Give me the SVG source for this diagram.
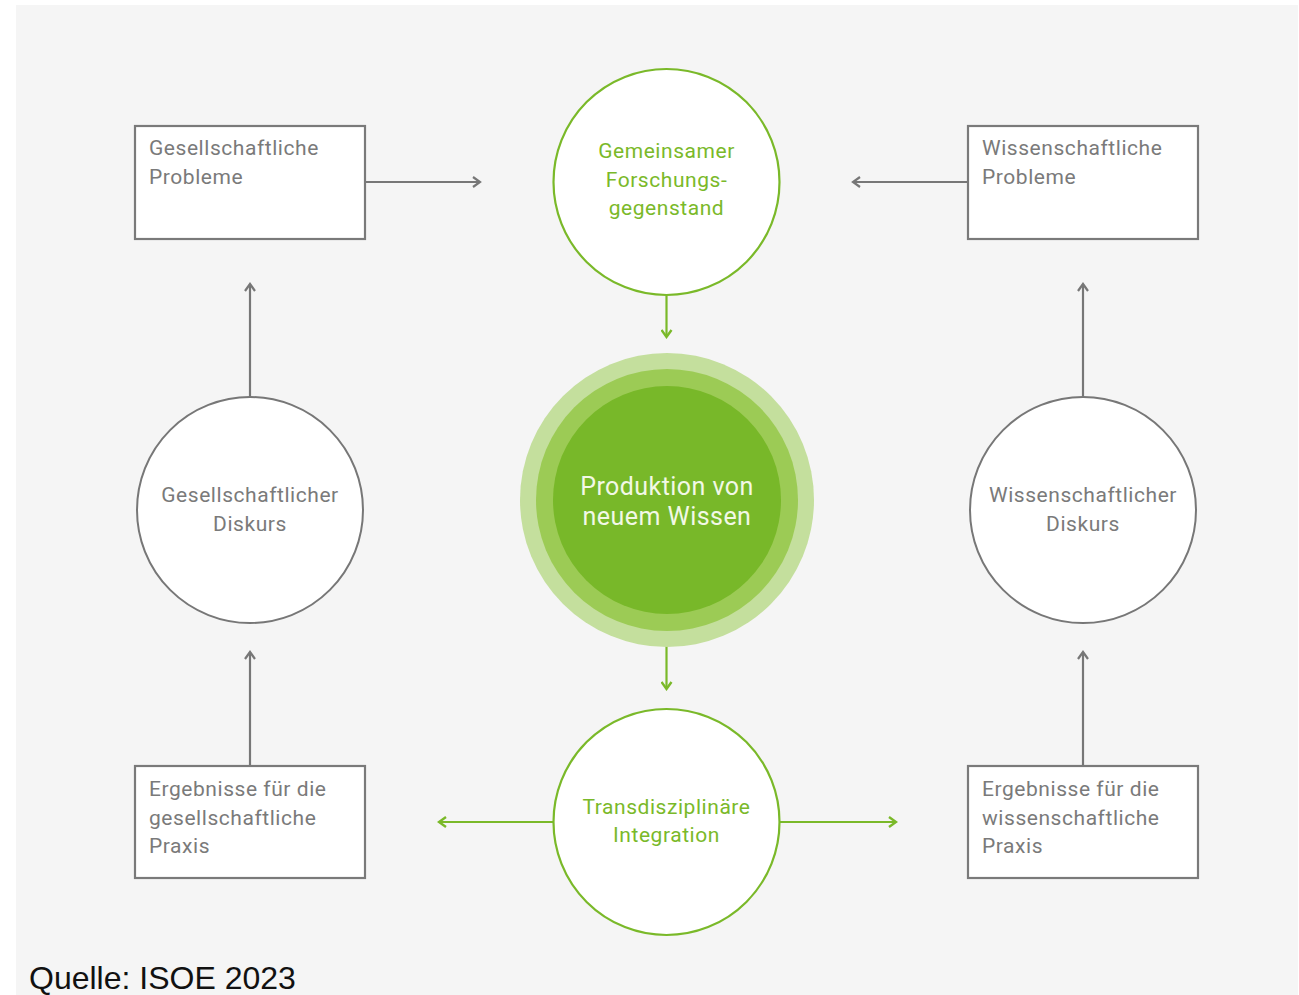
<svg xmlns="http://www.w3.org/2000/svg" width="1299" height="995" viewBox="0 0 1299 995">
<defs>
<style>
.bg{fill:#f5f5f5}
.box{fill:#fff;stroke:#7a7a7a;stroke-width:2.2}
.gc{fill:#fff;stroke:#777;stroke-width:2}
.grc{fill:#fff;stroke:#7ab929;stroke-width:2.2}
.t{font-family:Roboto,"Liberation Sans",sans-serif;font-size:21px;letter-spacing:0.55px;fill:#7a7a7a}
.tg{font-family:Roboto,"Liberation Sans",sans-serif;font-size:21px;letter-spacing:0.55px;fill:#7ab929;text-anchor:middle}
.tc{text-anchor:middle}
.tw{font-family:Roboto,"Liberation Sans",sans-serif;font-size:25px;letter-spacing:0.45px;fill:#f2f8e6;text-anchor:middle}
.gl{stroke:#777;stroke-width:2.2;fill:none}
.grl{stroke:#7ab929;stroke-width:2.2;fill:none}
</style>
<marker id="ag" viewBox="0 0 12 12" refX="10" refY="6" markerWidth="12" markerHeight="12" markerUnits="userSpaceOnUse" orient="auto">
<path d="M3,1 L10,6 L3,11" fill="none" stroke="#777" stroke-width="2.2"/>
</marker>
<marker id="agr" viewBox="0 0 12 12" refX="10" refY="6" markerWidth="12" markerHeight="12" markerUnits="userSpaceOnUse" orient="auto">
<path d="M3,1 L10,6 L3,11" fill="none" stroke="#7ab929" stroke-width="2.4"/>
</marker>
</defs>
<rect width="1299" height="995" fill="#fff"/>
<rect class="bg" x="16" y="5" width="1282" height="990"/>

<g id="connectors">
<line class="gl" x1="365" y1="182" x2="480" y2="182" marker-end="url(#ag)"/>
<line class="gl" x1="968" y1="182" x2="853" y2="182" marker-end="url(#ag)"/>
<line class="gl" x1="250" y1="397" x2="250" y2="284" marker-end="url(#ag)"/>
<line class="gl" x1="250" y1="766" x2="250" y2="652" marker-end="url(#ag)"/>
<line class="gl" x1="1083" y1="397" x2="1083" y2="284" marker-end="url(#ag)"/>
<line class="gl" x1="1083" y1="766" x2="1083" y2="652" marker-end="url(#ag)"/>
<line class="grl" x1="666.5" y1="296" x2="666.5" y2="337" marker-end="url(#agr)"/>
<line class="grl" x1="666.5" y1="646" x2="666.5" y2="689" marker-end="url(#agr)"/>
<line class="grl" x1="553" y1="822" x2="439" y2="822" marker-end="url(#agr)"/>
<line class="grl" x1="780" y1="822" x2="896" y2="822" marker-end="url(#agr)"/>
</g>

<g id="box-gesellschaftliche-probleme">
<rect class="box" x="135" y="126" width="230" height="113"/>
<text class="t" x="149" y="155">Gesellschaftliche</text>
<text class="t" x="149" y="184">Probleme</text>
</g>

<g id="box-wissenschaftliche-probleme">
<rect class="box" x="968" y="126" width="230" height="113"/>
<text class="t" x="982" y="155">Wissenschaftliche</text>
<text class="t" x="982" y="184">Probleme</text>
</g>

<g id="box-ergebnisse-gesellschaftlich">
<rect class="box" x="135" y="766" width="230" height="112"/>
<text class="t" x="149" y="796">Ergebnisse für die</text>
<text class="t" x="149" y="825">gesellschaftliche</text>
<text class="t" x="149" y="853">Praxis</text>
</g>

<g id="box-ergebnisse-wissenschaftlich">
<rect class="box" x="968" y="766" width="230" height="112"/>
<text class="t" x="982" y="796">Ergebnisse für die</text>
<text class="t" x="982" y="825">wissenschaftliche</text>
<text class="t" x="982" y="853">Praxis</text>
</g>

<g id="circle-gesellschaftlicher-diskurs">
<circle class="gc" cx="250" cy="510" r="113"/>
<text class="t tc" x="250" y="502">Gesellschaftlicher</text>
<text class="t tc" x="250" y="531">Diskurs</text>
</g>

<g id="circle-wissenschaftlicher-diskurs">
<circle class="gc" cx="1083" cy="510" r="113"/>
<text class="t tc" x="1083" y="502">Wissenschaftlicher</text>
<text class="t tc" x="1083" y="531">Diskurs</text>
</g>

<g id="circle-forschungsgegenstand">
<circle class="grc" cx="666.5" cy="182" r="113"/>
<text class="tg" x="666.5" y="158">Gemeinsamer</text>
<text class="tg" x="666.5" y="187">Forschungs-</text>
<text class="tg" x="666.5" y="215">gegenstand</text>
</g>

<g id="circle-produktion">
<circle cx="667" cy="500" r="147" fill="#c4df9d"/>
<circle cx="667" cy="500" r="131" fill="#9ccb55"/>
<circle cx="667" cy="500" r="114" fill="#78b829"/>
<text class="tw" x="667" y="495">Produktion von</text>
<text class="tw" x="667" y="525">neuem Wissen</text>
</g>

<g id="circle-integration">
<circle class="grc" cx="666.5" cy="822" r="113"/>
<text class="tg" x="666.5" y="814">Transdisziplinäre</text>
<text class="tg" x="666.5" y="842">Integration</text>
</g>

<text x="29" y="989" font-family="'Liberation Sans',Arial,sans-serif" font-size="32" fill="#111">Quelle: ISOE 2023</text>
</svg>
